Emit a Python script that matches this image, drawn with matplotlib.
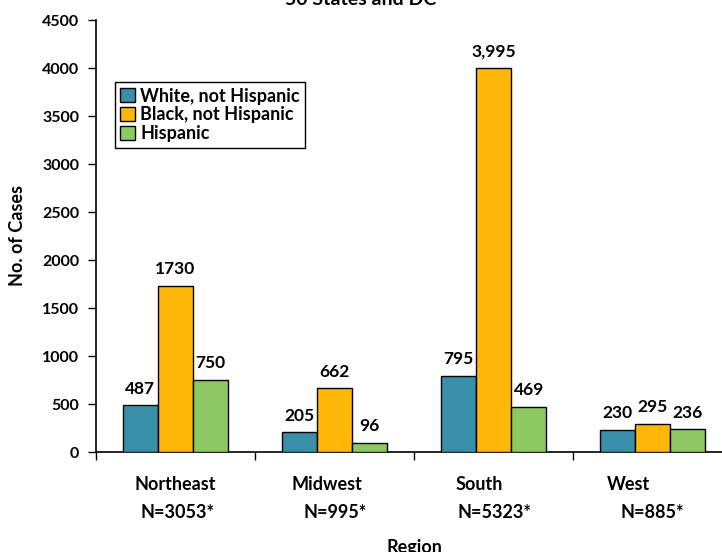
import matplotlib
matplotlib.use("Agg")
import matplotlib.pyplot as plt
import numpy as np

plt.rcParams['font.family'] = ['Lato', 'DejaVu Sans']
plt.rcParams['font.weight'] = 'bold'

REGIONS = ['Northeast', 'Midwest', 'South', 'West']
REGION_N = ['N=3053*', 'N=995*', 'N=5323*', 'N=885*']
GROUPS = ['White, not Hispanic', 'Black, not Hispanic', 'Hispanic']
WHITE = [487, 205, 795, 230]
BLACK = [1730, 662, 3995, 295]
HISPANIC = [750, 96, 469, 236]
VALUE_LABELS = [
    ['487', '205', '795', '230'],
    ['1730', '662', '3,995', '295'],
    ['750', '96', '469', '236'],
]

COLORS = ['#3A8FA8', '#FFB70A', '#8DC862']
W, H = 722, 552

fig = plt.figure(figsize=(W / 100, H / 100), dpi=100)
# axes run slightly past the right edge of the figure
left, right, top, bottom = 96, 732, 20, 452
ax = fig.add_axes([left / W, 1 - bottom / H, (right - left) / W, (bottom - top) / H])

index = np.arange(len(REGIONS))
bar_width = 0.222
offsets = [-bar_width, 0, bar_width]

for i, (vals, name) in enumerate(zip((WHITE, BLACK, HISPANIC), GROUPS)):
    bars = ax.bar(index + offsets[i], vals, bar_width, color=COLORS[i],
                  edgecolor='black', linewidth=1.0, label=name, zorder=3)
    for b, v, txt in zip(bars, vals, VALUE_LABELS[i]):
        ax.annotate(txt, (b.get_x() + b.get_width() / 2, v), xytext=(0, 12),
                    textcoords='offset points', ha='center', va='center',
                    fontsize=12.5, fontweight='bold')

ax.set_xlim(-0.5, 3.5)
ax.set_ylim(0, 4500)
ax.set_yticks(np.arange(0, 4501, 500))
ax.tick_params(axis='y', direction='out', length=6, width=1, labelsize=11.5, pad=6)
ax.set_xticks([-0.5, 0.5, 1.5, 2.5, 3.5])
ax.set_xticklabels([])
ax.tick_params(axis='x', direction='out', length=6, width=1)
for lbl in ax.get_yticklabels():
    lbl.set_fontweight('bold')

for s in ('top', 'right'):
    ax.spines[s].set_visible(False)
for s in ('left', 'bottom'):
    ax.spines[s].set_linewidth(1.2)

# two-line category labels
name_x = [175, 327, 479, 628]
n_x = [178, 335, 494, 652]
for nm, nx, lab, n in zip(name_x, n_x, REGIONS, REGION_N):
    fig.text(nm / W, 1 - 485 / H, lab, ha='center', va='center', fontsize=13, fontweight='bold')
    fig.text(nx / W, 1 - 512 / H, n, ha='center', va='center', fontsize=13, fontweight='bold')

fig.text(414 / W, 1 - 539 / H, 'Region', ha='center', va='top', fontsize=13, fontweight='bold')
fig.text(18 / W, 1 - 236 / H, 'No. of Cases', ha='center', va='center', rotation=90,
         fontsize=13, fontweight='bold')
fig.text(0.5, 1 - 5 / H, '50 States and DC', ha='center', va='baseline',
         fontsize=14, fontweight='bold')

leg = ax.legend(loc='upper left', bbox_to_anchor=(0.030, 0.856), fontsize=13,
                frameon=True, fancybox=False, edgecolor='black', framealpha=1,
                handlelength=0.8, handleheight=0.8, handletextpad=0.3,
                borderpad=0.3, labelspacing=0.1, borderaxespad=0)
leg.get_frame().set_linewidth(1.0)
for t in leg.get_texts():
    t.set_fontweight('bold')

fig.savefig('out.png', dpi=100)
